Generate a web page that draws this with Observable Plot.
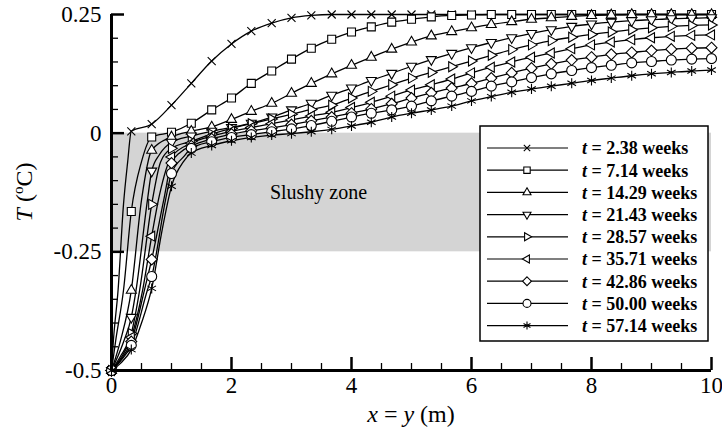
<!DOCTYPE html>
<html>
<head>
<meta charset="utf-8">
<script src="https://cdn.jsdelivr.net/npm/d3@7"></script>
<script src="https://cdn.jsdelivr.net/npm/@observablehq/plot@0.6"></script>
<style>
  body { margin: 0; background: #fff; }
  #chart { width: 722px; height: 434px; }
</style>
</head>
<body>
<div id="chart"></div>
<script>
// Distance along the diagonal x = y (m) where the profile is sampled (marker positions)
const xPos = [0, 0.33, 0.67, 1, 1.33, 1.67, 2, 2.33, 2.67, 3, 3.33, 3.67, 4, 4.33, 4.67, 5,
  5.33, 5.67, 6, 6.33, 6.67, 7, 7.33, 7.67, 8, 8.33, 8.67, 9, 9.33, 9.67, 10];

// Elapsed time of each profile (weeks)
const weekLabels = ["2.38", "7.14", "14.29", "21.43", "28.57", "35.71", "42.86", "50.00", "57.14"];

// Temperature T (°C) at each xPos, one array per profile
const T_2_38 = [-0.5, 0.004, 0.019, 0.059, 0.105, 0.152, 0.188, 0.215, 0.232, 0.243, 0.248,
  0.25, 0.25, 0.25, 0.25, 0.25, 0.25, 0.25, 0.25, 0.25, 0.25, 0.25, 0.25, 0.25, 0.25, 0.25, 0.25, 0.25, 0.25, 0.25, 0.25];
const T_7_14 = [-0.5, -0.165, -0.008, 0.002, 0.021, 0.049, 0.074, 0.105, 0.131, 0.156, 0.179, 0.198,
  0.213, 0.224, 0.234, 0.240, 0.245, 0.248, 0.249, 0.25, 0.25, 0.25, 0.25, 0.25, 0.25, 0.25, 0.25, 0.25, 0.25, 0.25, 0.25];
const T_14_29 = [-0.5, -0.331, -0.036, -0.008, 0.004, 0.013, 0.029, 0.046, 0.063, 0.084, 0.105, 0.125,
  0.143, 0.160, 0.177, 0.192, 0.205, 0.214, 0.222, 0.229, 0.235, 0.240, 0.243, 0.246, 0.248, 0.249, 0.25, 0.25, 0.25, 0.25, 0.25];
const T_21_43 = [-0.5, -0.388, -0.080, -0.019, -0.006, 0.004, 0.012, 0.021, 0.034, 0.049, 0.063, 0.080,
  0.095, 0.111, 0.126, 0.141, 0.155, 0.168, 0.180, 0.191, 0.201, 0.210, 0.218, 0.225, 0.230, 0.234, 0.237, 0.239, 0.241, 0.242, 0.243];
const T_28_57 = [-0.5, -0.422, -0.150, -0.032, -0.017, -0.002, 0.010, 0.020, 0.030, 0.040, 0.050, 0.059,
  0.074, 0.088, 0.102, 0.116, 0.128, 0.140, 0.152, 0.164, 0.176, 0.186, 0.195, 0.202, 0.208, 0.213, 0.218, 0.222, 0.225, 0.227, 0.228];
const T_35_71 = [-0.5, -0.430, -0.217, -0.050, -0.021, -0.006, 0.004, 0.012, 0.020, 0.028, 0.036, 0.044,
  0.054, 0.065, 0.078, 0.091, 0.102, 0.114, 0.127, 0.139, 0.150, 0.160, 0.169, 0.178, 0.186, 0.192, 0.197, 0.201, 0.204, 0.206, 0.207];
const T_42_86 = [-0.5, -0.439, -0.266, -0.063, -0.027, -0.012, -0.002, 0.005, 0.011, 0.018, 0.026, 0.034,
  0.042, 0.051, 0.062, 0.074, 0.085, 0.095, 0.105, 0.116, 0.127, 0.137, 0.146, 0.154, 0.160, 0.166, 0.170, 0.174, 0.177, 0.179, 0.180];
const T_50_00 = [-0.5, -0.447, -0.302, -0.085, -0.032, -0.018, -0.009, -0.003, 0.003, 0.009, 0.016, 0.025,
  0.034, 0.042, 0.049, 0.057, 0.068, 0.078, 0.088, 0.099, 0.108, 0.117, 0.125, 0.132, 0.138, 0.143, 0.148, 0.151, 0.154, 0.156, 0.157];
const T_57_14 = [-0.5, -0.456, -0.327, -0.112, -0.042, -0.026, -0.016, -0.009, -0.004, -0.001, 0.003, 0.008,
  0.015, 0.023, 0.034, 0.042, 0.049, 0.057, 0.068, 0.077, 0.086, 0.093, 0.099, 0.105, 0.111, 0.116, 0.121, 0.125, 0.128, 0.131, 0.133];

// Additional [x, T] samples in the steep rise near the cold boundary (drawn as line only)
const rise_2_38 = [[0.03, -0.44], [0.11, -0.33], [0.2, -0.15], [0.27, -0.06]];
const rise_7_14 = [[0.07, -0.437], [0.2, -0.331], [0.5, -0.06]];
const rise_14_29 = [[0.15, -0.437], [0.5, -0.141]];
const rise_21_43 = [[0.2, -0.44], [0.41, -0.33], [0.6, -0.14], [0.8, -0.045]];
const rise_28_57 = [[0.15, -0.47], [0.47, -0.33], [0.82, -0.06]];
const rise_35_71 = [[0.15, -0.475], [0.52, -0.33], [0.8, -0.13]];
const rise_42_86 = [[0.15, -0.478], [0.55, -0.33], [0.87, -0.141], [1.15, -0.04]];
const rise_50_00 = [[0.15, -0.48], [0.6, -0.33], [0.9, -0.141], [1.2, -0.05]];
const rise_57_14 = [[0.15, -0.485], [0.5, -0.40], [0.85, -0.2], [1.2, -0.06]];

// Slushy (partially frozen) temperature band and its label
const slushyZone = [{x0: 0, x1: 10, lo: -0.25, hi: 0}];
const slushyLabel = [{x: 3.45, T: -0.125, text: "Slushy zone"}];

// Axis ticks
const xMajor = [0, 2, 4, 6, 8, 10];
const xMinor = [0.5, 1, 1.5, 2.5, 3, 3.5, 4.5, 5, 5.5, 6.5, 7, 7.5, 8.5, 9, 9.5];
const yMajor = [-0.5, -0.25, 0, 0.25];
const yMinor = [-0.45, -0.4, -0.35, -0.3, -0.2, -0.15, -0.1, -0.05, 0.05, 0.1, 0.15, 0.2];

const temps = [T_2_38, T_7_14, T_14_29, T_21_43, T_28_57, T_35_71, T_42_86, T_50_00, T_57_14];
const rises = [rise_2_38, rise_7_14, rise_14_29, rise_21_43, rise_28_57, rise_35_71, rise_42_86, rise_50_00, rise_57_14];

// Marker shapes (open symbols drawn around the origin, r = half extent)
const rad = s => Math.sqrt(s / Math.PI);
function triangle(deg) {
  const a = deg * Math.PI / 180, ca = Math.cos(a), sa = Math.sin(a);
  const pts = [[0, -1.15], [1.0, 0.6], [-1.0, 0.6]];
  return {draw(c, s) {
    const r = rad(s);
    pts.forEach(([px, py], k) => {
      const X = r * (px * ca - py * sa), Y = r * (px * sa + py * ca);
      k ? c.lineTo(X, Y) : c.moveTo(X, Y);
    });
    c.closePath();
  }};
}
const symTimes = {draw(c, s) { const r = rad(s) * 0.8; c.moveTo(-r, -r); c.lineTo(r, r); c.moveTo(r, -r); c.lineTo(-r, r); }};
const symSquare = {draw(c, s) { const r = rad(s) * 0.8; c.rect(-r, -r, 2 * r, 2 * r); }};
const symDiamond = {draw(c, s) { const r = rad(s) * 1.1; c.moveTo(0, -r); c.lineTo(r, 0); c.lineTo(0, r); c.lineTo(-r, 0); c.closePath(); }};
const symCircle = {draw(c, s) { const r = rad(s); c.moveTo(r, 0); c.arc(0, 0, r, 0, 2 * Math.PI); }};
const symStar = {draw(c, s) {
  const r = rad(s);
  [90, 30, 150].forEach(d => {
    const a = d * Math.PI / 180, dx = r * Math.cos(a), dy = r * Math.sin(a);
    c.moveTo(-dx, -dy); c.lineTo(dx, dy);
  });
}};
const symbols = [symTimes, symSquare, triangle(0), triangle(180), triangle(90), triangle(270), symDiamond, symCircle, symStar];

const markerData = temps.map(vals => xPos.map((x, j) => ({x, T: vals[j]})));
const lineData = markerData.map((pts, i) =>
  pts.concat(rises[i].map(([x, T]) => ({x, T}))).sort((a, b) => a.x - b.x));

const W = 722, H = 434, mL = 111, mR = 11, mT = 14, mB = 64;
const innerW = W - mL - mR, innerH = H - mT - mB;

const marks = [
  Plot.rect(slushyZone, {x1: "x0", x2: "x1", y1: "lo", y2: "hi", fill: "#d4d4d4"}),
  Plot.text(slushyLabel, {x: "x", y: "T", text: "text", fontSize: 20, fill: "black"}),
  ...lineData.map(d => Plot.line(d, {x: "x", y: "T", curve: "monotone-x", stroke: "black", strokeWidth: 1.3})),
  ...markerData.map((d, i) => Plot.dot(d, {x: "x", y: "T", symbol: symbols[i], r: 5, fill: "white", stroke: "black", strokeWidth: 1.1})),
  // axis lines and inward ticks
  Plot.ruleX([0], {stroke: "black", strokeWidth: 3}),
  Plot.ruleY([-0.5], {stroke: "black", strokeWidth: 3}),
  Plot.ruleX(xMajor, {stroke: "black", strokeWidth: 2.5, insetTop: innerH - 13}),
  Plot.ruleX(xMinor, {stroke: "black", strokeWidth: 1.3, insetTop: innerH - 7}),
  Plot.ruleY(yMajor, {stroke: "black", strokeWidth: 2.5, insetRight: innerW - 13}),
  Plot.ruleY(yMinor, {stroke: "black", strokeWidth: 1.3, insetRight: innerW - 7}),
  Plot.axisX({ticks: xMajor, tickSize: 0, tickPadding: 6, fontSize: 23, tickFormat: d => String(d), label: null}),
  Plot.axisY({ticks: yMajor, tickSize: 0, tickPadding: 10, fontSize: 23, tickFormat: d => String(d), label: null})
];

const chart = Plot.plot({
  width: W, height: H,
  marginLeft: mL, marginRight: mR, marginTop: mT, marginBottom: mB,
  x: {domain: [0, 10]},
  y: {domain: [-0.5, 0.25]},
  style: {fontFamily: "'Liberation Serif', 'Times New Roman', serif", fontSize: "24px", color: "black", background: "white", overflow: "visible"},
  marks
});
document.getElementById("chart").appendChild(chart);

const svg = d3.select(chart);

// axis titles
const xt = svg.append("text").attr("x", mL + innerW / 2).attr("y", 422)
  .attr("text-anchor", "middle").attr("font-size", 24).attr("fill", "black");
xt.append("tspan").attr("font-style", "italic").text("x");
xt.append("tspan").text(" = ");
xt.append("tspan").attr("font-style", "italic").text("y");
xt.append("tspan").text(" (m)");

const yt = svg.append("text").attr("transform", `translate(32,${mT + innerH / 2}) rotate(-90)`)
  .attr("text-anchor", "middle").attr("font-size", 24).attr("fill", "black");
yt.append("tspan").attr("font-style", "italic").text("T");
yt.append("tspan").text(" (");
yt.append("tspan").attr("font-size", 15).attr("dy", -9).text("o");
yt.append("tspan").attr("dy", 9).text("C)");

// legend
const lg = svg.append("g");
lg.append("rect").attr("x", 480).attr("y", 126).attr("width", 228).attr("height", 215)
  .attr("fill", "white").attr("stroke", "black").attr("stroke-width", 1.5);
weekLabels.forEach((w, i) => {
  const y = 148 + i * 22.2;
  lg.append("line").attr("x1", 487).attr("x2", 568).attr("y1", y).attr("y2", y)
    .attr("stroke", "black").attr("stroke-width", 1.2);
  lg.append("path").attr("transform", `translate(527,${y})`)
    .attr("d", d3.symbol(symbols[i], Math.PI * 16)())
    .attr("fill", "white").attr("stroke", "black").attr("stroke-width", 1.1);
  const t = lg.append("text").attr("x", 582).attr("y", y).attr("dy", "0.35em")
    .attr("text-anchor", "start")
    .attr("font-size", 18).attr("font-weight", "bold").attr("fill", "black");
  t.append("tspan").attr("font-style", "italic").text("t");
  t.append("tspan").text(` = ${w} weeks`);
});
</script>
</body>
</html>
